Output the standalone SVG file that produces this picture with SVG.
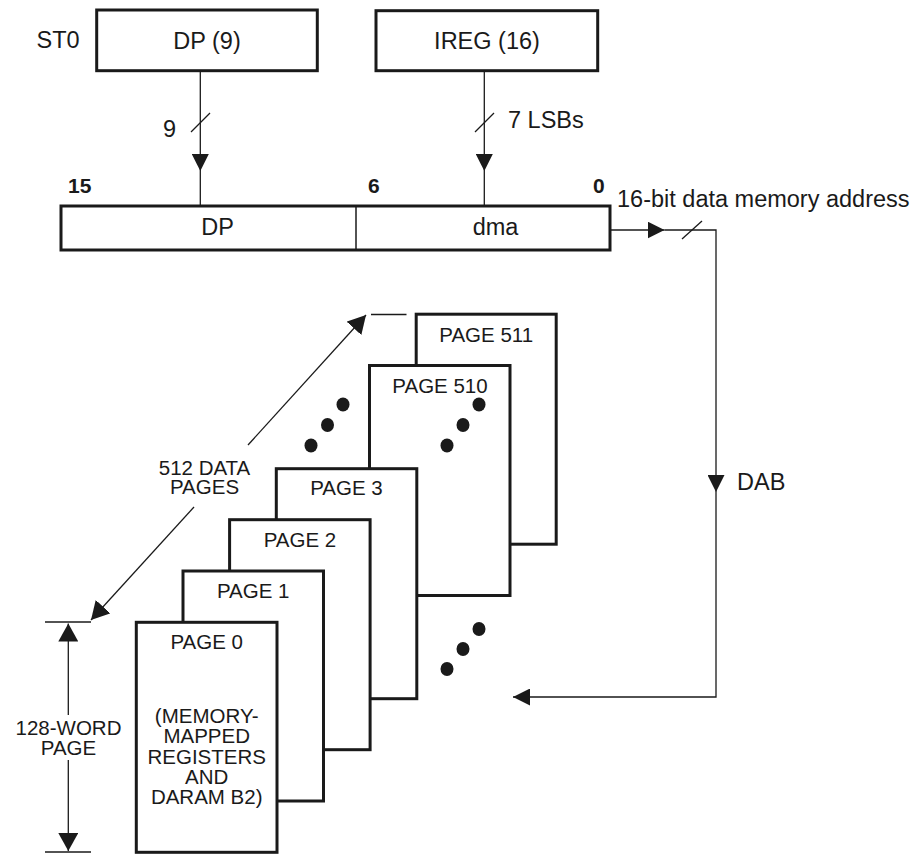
<svg xmlns="http://www.w3.org/2000/svg" width="920" height="854" viewBox="0 0 920 854">
<style>
  .box{fill:#fff;stroke:#1a1a1a;stroke-width:3}
  .ln{fill:none;stroke:#1a1a1a;stroke-width:1.3}
  .t{font-family:"Liberation Sans",Arial,sans-serif;fill:#1a1a1a}
  .big{font-size:23.5px}
  .pg{font-size:20.5px;text-anchor:middle}
  .bit{font-size:21px;font-weight:bold}
  .dot{fill:#1a1a1a}
</style>
<defs>
  <marker id="ah" markerUnits="userSpaceOnUse" markerWidth="17" markerHeight="17" viewBox="0 0 17 17" refX="17" refY="8.5" orient="auto">
    <path d="M0,0 L17,8.5 L0,17 Z" fill="#1a1a1a"/>
  </marker>
  <marker id="ahw" markerUnits="userSpaceOnUse" markerWidth="18" markerHeight="20" viewBox="0 0 18 20" refX="18" refY="10" orient="auto">
    <path d="M0,0 L18,10 L0,20 Z" fill="#1a1a1a"/>
  </marker>
</defs>

<text class="t big" x="36.5" y="48">ST0</text>

<g id="dp9">
  <rect class="box" x="96.7" y="10" width="220.6" height="60.7"/>
  <text class="t big" x="207" y="49" text-anchor="middle">DP (9)</text>
</g>

<g id="ireg">
  <rect class="box" x="376" y="10.7" width="221.7" height="60"/>
  <text class="t big" x="487" y="48.5" text-anchor="middle">IREG (16)</text>
</g>

<g id="register">
  <rect class="box" x="61" y="206" width="549" height="44"/>
  <line x1="356" y1="206" x2="356" y2="250" stroke="#1a1a1a" stroke-width="1.5"/>
  <text class="t big" x="217.5" y="235" text-anchor="middle">DP</text>
  <text class="t big" x="495.5" y="235" text-anchor="middle">dma</text>
  <text class="t bit" x="68" y="193">15</text>
  <text class="t bit" x="368" y="193">6</text>
  <text class="t bit" x="593" y="193">0</text>
</g>

<g id="page511">
  <rect class="box" x="416.2" y="314.2" width="140" height="230"/>
  <text class="t pg" x="486.2" y="341.5">PAGE 511</text>
</g>
<g id="page510">
  <rect class="box" x="369.5" y="365.5" width="140.5" height="230"/>
  <text class="t pg" x="440" y="393">PAGE 510</text>
  <ellipse class="dot" cx="447" cy="445.5" rx="6.5" ry="7"/>
  <ellipse class="dot" cx="463" cy="425" rx="6.5" ry="7"/>
  <ellipse class="dot" cx="479" cy="404.5" rx="6.5" ry="7"/>
</g>
<g id="page3">
  <rect class="box" x="276.3" y="468.7" width="140.5" height="230"/>
  <text class="t pg" x="346.5" y="495">PAGE 3</text>
</g>
<g id="page2">
  <rect class="box" x="229.6" y="519.7" width="140.5" height="230"/>
  <text class="t pg" x="300" y="546.5">PAGE 2</text>
</g>
<g id="page1">
  <rect class="box" x="183" y="571" width="140.5" height="230"/>
  <text class="t pg" x="253.2" y="598">PAGE 1</text>
</g>
<g id="page0">
  <rect class="box" x="136.3" y="622.3" width="140.7" height="230"/>
  <text class="t pg" x="206.7" y="649">PAGE 0</text>
  <text class="t pg" x="206.7" y="723">(MEMORY-</text>
  <text class="t pg" x="206.7" y="743.3">MAPPED</text>
  <text class="t pg" x="206.7" y="763.6">REGISTERS</text>
  <text class="t pg" x="206.7" y="784">AND</text>
  <text class="t pg" x="206.7" y="804.3">DARAM B2)</text>
</g>

<g id="ellipsis">
  <ellipse class="dot" cx="311" cy="445.5" rx="6.5" ry="7"/>
  <ellipse class="dot" cx="327.5" cy="425" rx="6.5" ry="7"/>
  <ellipse class="dot" cx="343" cy="404.5" rx="6.5" ry="7"/>
  <ellipse class="dot" cx="447" cy="669" rx="6.5" ry="7"/>
  <ellipse class="dot" cx="463" cy="649" rx="6.5" ry="7"/>
  <ellipse class="dot" cx="479" cy="629" rx="6.5" ry="7"/>
</g>

<g id="connectors">
  <!-- DP(9) to register -->
  <path class="ln" d="M200.3,70.7 V171" marker-end="url(#ah)"/>
  <path class="ln" d="M200.3,171 V206"/>
  <line class="ln" x1="191" y1="132" x2="210" y2="113"/>
  <!-- IREG to register -->
  <path class="ln" d="M484.3,70.7 V171" marker-end="url(#ah)"/>
  <path class="ln" d="M484.3,171 V206"/>
  <line class="ln" x1="475" y1="132" x2="494" y2="113"/>
  <!-- address bus -->
  <path class="ln" d="M610,230 H664.5" marker-end="url(#ah)"/>
  <path class="ln" d="M664.5,230 H716 V492" marker-end="url(#ah)"/>
  <path class="ln" d="M716,492 V697 H513" marker-end="url(#ah)"/>
  <line class="ln" x1="682" y1="239" x2="702" y2="221"/>
  <!-- 512 data pages dimension -->
  <path class="ln" d="M248,445 L366,315" marker-end="url(#ahw)"/>
  <path class="ln" d="M194,507 L91,620" marker-end="url(#ahw)"/>
  <line class="ln" x1="371" y1="314.5" x2="406.5" y2="314.5" stroke-width="1.8"/>
  <!-- 128-word page dimension -->
  <line class="ln" x1="45" y1="622" x2="91" y2="622" stroke-width="1.8"/>
  <line class="ln" x1="45" y1="852" x2="91" y2="852" stroke-width="1.8"/>
  <path class="ln" d="M68.3,715 V623.5" marker-end="url(#ahw)"/>
  <path class="ln" d="M68.3,760 V851" marker-end="url(#ahw)"/>
</g>

<text class="t big" x="163" y="137">9</text>
<text class="t big" x="508" y="128">7 LSBs</text>
<text class="t big" x="617" y="207">16-bit data memory address</text>
<text class="t big" x="737" y="490">DAB</text>
<text class="t pg" x="204.5" y="475">512 DATA</text>
<text class="t pg" x="204.5" y="494">PAGES</text>
<text class="t pg" x="68.5" y="735">128-WORD</text>
<text class="t pg" x="68.5" y="755">PAGE</text>
</svg>
